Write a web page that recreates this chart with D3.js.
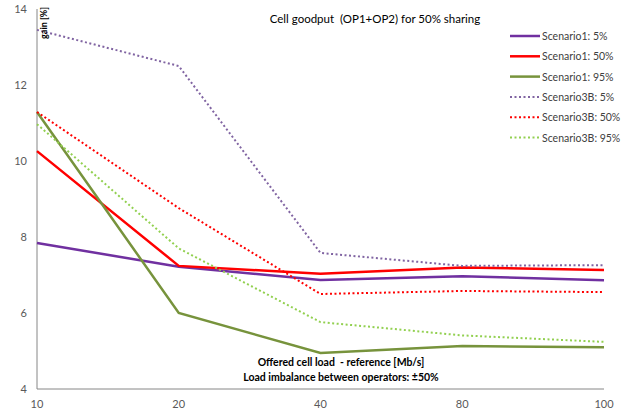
<!DOCTYPE html>
<meta charset="utf-8">
<html>
<head>
<script src="https://cdn.jsdelivr.net/npm/d3@7"></script>
<style>
  body { margin: 0; background: #fff; }
  text { font-family: Lato, "Open Sans", sans-serif; white-space: pre; }
  .tick-label { fill: #595959; font-size: 11px; }
  .legend-label { fill: #404040; font-size: 10.5px; }
</style>
</head>
<body>
<div id="chart"></div>
<script>
// data
var loads = ["10", "20", "40", "80", "100"];
var yTicks = [4, 6, 8, 10, 12, 14];

var s1_5  = [7.84, 7.22, 6.87, 6.97, 6.86];
var s1_50 = [10.26, 7.24, 7.03, 7.2, 7.13];
var s1_95 = [11.29, 6.0, 4.95, 5.13, 5.1];
var s3_5  = [13.45, 12.5, 7.58, 7.24, 7.26];
var s3_50 = [11.29, 8.76, 6.5, 6.58, 6.55];
var s3_95 = [10.97, 7.7, 5.76, 5.41, 5.24];

var seriesNames = ["Scenario1: 5%", "Scenario1: 50%", "Scenario1: 95%",
                   "Scenario3B: 5%", "Scenario3B: 50%", "Scenario3B: 95%"];

var series = [
  { name: seriesNames[0], values: s1_5,  color: "#7030A0", dash: null },
  { name: seriesNames[1], values: s1_50, color: "#FF0000", dash: null },
  { name: seriesNames[2], values: s1_95, color: "#77933C", dash: null },
  { name: seriesNames[3], values: s3_5,  color: "#8064A2", dash: "2,2.5" },
  { name: seriesNames[4], values: s3_50, color: "#FF0000", dash: "2,2.5" },
  { name: seriesNames[5], values: s3_95, color: "#92D050", dash: "2,2.5" }
];

var width = 625, height = 412;

var svg = d3.select("#chart").append("svg")
    .attr("width", width)
    .attr("height", height);

var x = d3.scalePoint().domain(loads).range([37, 604]);
var y = d3.scaleLinear().domain([4, 14]).range([389, 9]);

// axes lines
svg.append("line")
    .attr("x1", x("10")).attr("x2", x("10"))
    .attr("y1", y(14)).attr("y2", y(4))
    .attr("stroke", "#868686").attr("stroke-width", 1);
svg.append("line")
    .attr("x1", x("10")).attr("x2", x("100"))
    .attr("y1", y(4)).attr("y2", y(4))
    .attr("stroke", "#868686").attr("stroke-width", 1);

// tick labels
svg.selectAll(".ylab")
    .data(yTicks)
    .enter().append("text")
    .attr("class", "tick-label")
    .attr("x", 27)
    .attr("y", function(d) { return y(d) + 4; })
    .attr("text-anchor", "end")
    .text(function(d) { return d; });

svg.selectAll(".xlab")
    .data(loads)
    .enter().append("text")
    .attr("class", "tick-label")
    .attr("x", function(d) { return x(d); })
    .attr("y", 408)
    .attr("text-anchor", "middle")
    .text(function(d) { return d; });

// lines
var line = d3.line()
    .x(function(d, i) { return x(loads[i]); })
    .y(function(d) { return y(d); });

svg.selectAll(".series")
    .data(series)
    .enter().append("path")
    .attr("fill", "none")
    .attr("stroke", function(d) { return d.color; })
    .attr("stroke-width", function(d) { return d.dash ? 2 : 2.5; })
    .attr("stroke-dasharray", function(d) { return d.dash; })
    .attr("d", function(d) { return line(d.values); });

// title
svg.append("text")
    .attr("x", 375)
    .attr("y", 23)
    .attr("text-anchor", "middle")
    .attr("font-size", "11.5px")
    .attr("fill", "#000")
    .text("Cell goodput  (OP1+OP2) for 50% sharing");

// y label
svg.append("text")
    .attr("transform", "translate(47,7) rotate(-90)")
    .attr("text-anchor", "end")
    .attr("font-size", "9px")
    .attr("font-weight", "bold")
    .attr("fill", "#000")
    .text("gain [%]");

// x annotation
svg.append("text")
    .attr("x", 341).attr("y", 366)
    .attr("text-anchor", "middle")
    .attr("font-size", "10.5px")
    .attr("font-weight", "bold")
    .text("Offered cell load  - reference [Mb/s]");
svg.append("text")
    .attr("x", 341).attr("y", 381)
    .attr("text-anchor", "middle")
    .attr("font-size", "10.5px")
    .attr("font-weight", "bold")
    .text("Load imbalance between operators: \u00b150%");

// legend
var legend = svg.selectAll(".legend")
    .data(series)
    .enter().append("g")
    .attr("transform", function(d, i) { return "translate(510," + (36 + i * 20.3) + ")"; });

legend.append("line")
    .attr("x1", 0).attr("x2", 30)
    .attr("stroke", function(d) { return d.color; })
    .attr("stroke-width", function(d) { return d.dash ? 2 : 2.5; })
    .attr("stroke-dasharray", function(d) { return d.dash; });

legend.append("text")
    .attr("class", "legend-label")
    .attr("x", 32)
    .attr("y", 4)
    .text(function(d) { return d.name; });
</script>
</body>
</html>
